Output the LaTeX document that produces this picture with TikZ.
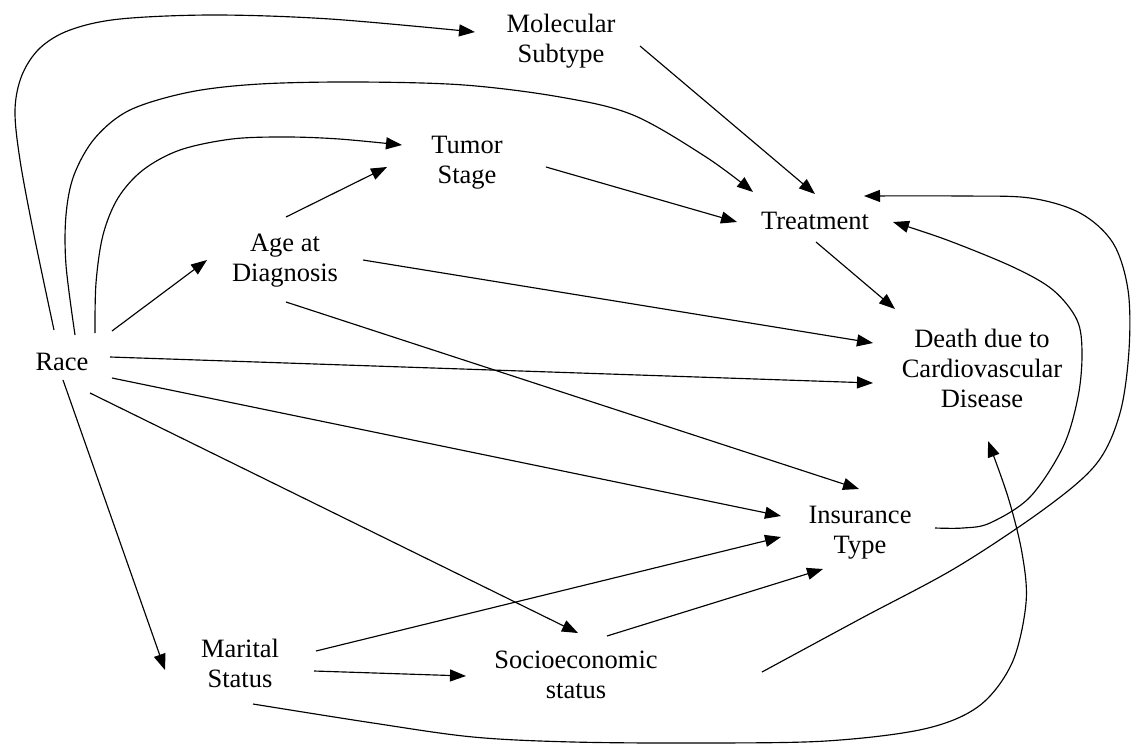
\documentclass[tikz,border=0pt]{standalone}
\usepackage{fontspec}
\setmainfont{Liberation Serif}
\usetikzlibrary{arrows.meta}

\begin{document}
\begin{tikzpicture}[
  x=1pt, y=-1pt,
  var/.style={font=\fontsize{26.5}{30}\selectfont, align=center, inner sep=0pt,
              execute at begin node=\strut, execute at end node=\strut},
  link/.style={line width=1.15pt, -{Triangle[length=16pt,width=12pt]}},
  curvelink/.style={link, smooth, tension=0.55}
]
\useasboundingbox (0,0) rectangle (1131,744);

% variables of the causal diagram
\node[var] (race)  at (62,364)  {Race};
\node[var] (age)   at (285,262) {Age at\\Diagnosis};
\node[var] (tumor) at (467,164) {Tumor\\Stage};
\node[var] (mol)   at (561,43)  {Molecular\\Subtype};
\node[var] (treat) at (815,223) {Treatment};
\node[var] (death) at (982,373) {Death due to\\Cardiovascular\\Disease};
\node[var] (ins)   at (860,534) {Insurance\\Type};
\node[var] (mar)   at (240,668) {Marital\\Status};
\node[var] (soc)   at (576,679) {Socioeconomic\\status};

% straight arrows
\draw[link] ([shift={(50,-33)}]race.center) -- ([shift={(-78,-2)}]age.center);
\draw[link] ([shift={(48,-7)}]race.center) -- ([shift={(-109,10)}]death.center);
\draw[link] ([shift={(50,14)}]race.center) -- ([shift={(-79,-18)}]ins.center);
\draw[link] ([shift={(28,29)}]race.center) -- ([shift={(2,-46)}]soc.center);
\draw[link] ([shift={(1,16)}]race.center) -- ([shift={(-75,2)}]mar.center);
\draw[link] ([shift={(1,-45)}]age.center) -- ([shift={(-80,3)}]tumor.center);
\draw[link] ([shift={(78,-2)}]age.center) -- ([shift={(-109,-30)}]death.center);
\draw[link] ([shift={(1,40)}]age.center) -- ([shift={(-1,-45)}]ins.center);
\draw[link] ([shift={(79,3)}]tumor.center) -- ([shift={(-78,-1)}]treat.center);
\draw[link] ([shift={(79,3)}]mol.center) -- ([shift={(0,-29)}]treat.center);
\draw[link] ([shift={(1,19)}]treat.center) -- ([shift={(-87,-64)}]death.center);
\draw[link] ([shift={(76,-17)}]mar.center) -- ([shift={(-79,3)}]ins.center);
\draw[link] ([shift={(74,3)}]mar.center) -- ([shift={(-110,-3)}]soc.center);
\draw[link] ([shift={(31,-43)}]soc.center) -- ([shift={(-37,35)}]ins.center);

% end points of the curved arrows
\coordinate (rm0) at ([shift={(-8,-34)}]race.center);
\coordinate (rm1) at ([shift={(-86,-11)}]mol.center);
\coordinate (rt0) at ([shift={(13,-29)}]race.center);
\coordinate (rt1) at ([shift={(-62,-31)}]treat.center);
\coordinate (rs0) at ([shift={(33,-31)}]race.center);
\coordinate (rs1) at ([shift={(-65,-19)}]tumor.center);
\coordinate (it0) at ([shift={(75,-6)}]ins.center);
\coordinate (it1) at ([shift={(78,-1)}]treat.center);
\coordinate (st0) at ([shift={(186,-7)}]soc.center);
\coordinate (st1) at ([shift={(49,-27)}]treat.center);
\coordinate (md0) at ([shift={(13,36)}]mar.center);
\coordinate (md1) at ([shift={(6,68)}]death.center);

% curved arrows
\draw[curvelink] plot coordinates {(rm0) (34,235) (20,160) (15,110) (22,75) (40,48) (70,30) (120,19) (214,15) (330,19) (rm1)};
\draw[curvelink] plot coordinates {(rt0) (66,265) (66,215) (74,175) (95,138) (130,110) (190,92) (260,84) (357,82) (464,85) (560,97) (633,115) (706,157) (rt1)};
\draw[curvelink] plot coordinates {(rs0) (96,283) (103,235) (118,198) (143,170) (180,150) (232,139) (286,137) (339,139) (rs1)};
\draw[curvelink] plot coordinates {(it0) (963,528) (990,523) (1030,497) (1063,447) (1078,397) (1082,353) (1077,320) (1053,290) (1013,267) (947,240) (it1)};
\draw[curvelink] plot coordinates {(st0) (860,619) (957,567) (1047,507) (1097,463) (1120,413) (1129,350) (1128,290) (1113,243) (1080,213) (1030,198) (961,196) (st1)};
\draw[curvelink] plot coordinates {(md0) (373,723) (473,737) (573,742) (700,743) (826,741) (924,729) (979,706) (1012,663) (1026,603) (1022,553) (1008,497) (md1)};
\end{tikzpicture}
\end{document}
